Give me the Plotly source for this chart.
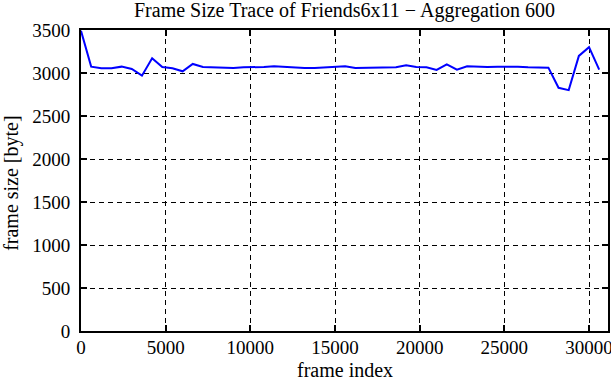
import plotly.graph_objects as go

frame_index = [0, 600, 1200, 1800, 2400, 3000, 3600, 4200, 4800, 5400,
               6000, 6600, 7200, 7800, 8400, 9000, 9600, 10200, 10800, 11400,
               12000, 12600, 13200, 13800, 14400, 15000, 15600, 16200, 16800, 17400,
               18000, 18600, 19200, 19800, 20400, 21000, 21600, 22200, 22800, 23400,
               24000, 24600, 25200, 25800, 26400, 27000, 27600, 28200, 28800, 29400,
               30000, 30600]
frame_size = [3490, 3074, 3055, 3055, 3074, 3047, 2969, 3172, 3070, 3055,
              3020, 3105, 3070, 3066, 3066, 3058, 3066, 3066, 3070, 3078,
              3070, 3066, 3058, 3058, 3066, 3074, 3078, 3058, 3062, 3062,
              3062, 3066, 3090, 3070, 3066, 3035, 3101, 3039, 3078, 3070,
              3070, 3074, 3078, 3074, 3066, 3062, 3062, 2828, 2801, 3199,
              3300, 3039]

x_ticks = [0, 5000, 10000, 15000, 20000, 25000, 30000]
x_tick_labels = ["0", "5000", "10000", "15000", "20000", "25000", "30000"]
y_ticks = [0, 500, 1000, 1500, 2000, 2500, 3000, 3500]
y_tick_labels = ["0", "500", "1000", "1500", "2000", "2500", "3000", "3500"]

title_text = "Frame Size Trace of Friends6x11 \u2212 Aggregation 600"
x_title = "frame index"
y_title = "frame size [byte]"

FONT = "Liberation Serif"
FS = 19
FT = 20

fig = go.Figure()
fig.add_trace(go.Scatter(x=frame_index, y=frame_size, mode="lines",
                         line=dict(color="#0000ff", width=2), showlegend=False))

axis_common = dict(
    showline=True, linecolor="black", linewidth=2, mirror="allticks",
    ticks="inside", ticklen=6, tickcolor="black", tickwidth=1.5,
    showgrid=True, gridcolor="black", gridwidth=1, griddash="5px,4px",
    zeroline=False, automargin=False, ticklabeloverflow="allow",
    tickfont=dict(family=FONT, size=FS, color="black"),
)

fig.update_layout(
    width=611, height=380,
    margin=dict(l=81, r=3, t=30, b=49),
    paper_bgcolor="white", plot_bgcolor="white",
    title=dict(text=title_text, x=0.5, xref="paper", yref="container",
               y=1 - 10 / 380, yanchor="middle", automargin=False,
               font=dict(family=FONT, size=FT, color="black")),
    xaxis=dict(range=[0, 31120], tickvals=x_ticks, ticktext=x_tick_labels,
               ticklabelstandoff=-2, **axis_common),
    yaxis=dict(range=[0, 3500], tickvals=y_ticks, ticktext=y_tick_labels,
               ticklabelstandoff=5, **axis_common),
    annotations=[
        dict(text=x_title, xref="paper", yref="paper", x=0.5, y=-0.13,
             xanchor="center", yanchor="middle", showarrow=False,
             font=dict(family=FONT, size=FT, color="black")),
        dict(text=y_title, xref="paper", yref="paper", x=-0.131, y=0.492,
             xanchor="center", yanchor="middle", showarrow=False, textangle=-90,
             font=dict(family=FONT, size=FT, color="black")),
    ],
)

fig.write_html("out.html", config={"displayModeBar": False},
               post_script="document.body.style.margin='0';")
